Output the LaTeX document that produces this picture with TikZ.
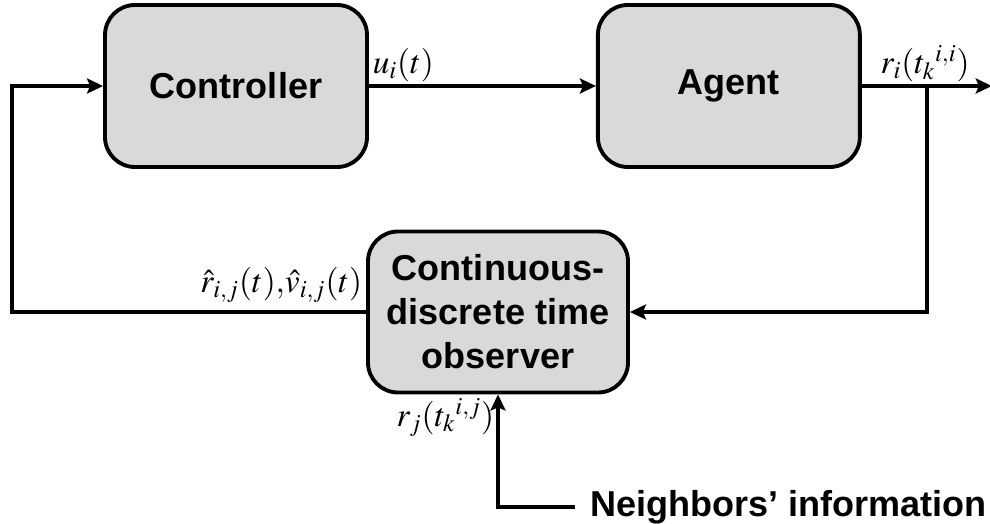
\documentclass[tikz,border=0pt]{standalone}
\usepackage{mathptmx}
\usepackage{fontspec}
\setsansfont{Liberation Sans}
\usepackage{xcolor}
\usepackage{tikz}
\usetikzlibrary{positioning,arrows.meta}
\definecolor{blkgrey}{RGB}{217,217,217}
\tikzset{
  blk/.style={draw=black, line width=2.2pt, fill=blkgrey, rounded corners=0.6cm,
              minimum width=5.24cm, minimum height=3.24cm, align=center,
              font=\sffamily\bfseries\fontsize{20.5}{25}\selectfont},
  sig/.style={-{Stealth[length=0.32cm, width=0.3cm, inset=0.06cm]}, line width=2.2pt},
  lbl/.style={font=\fontsize{19}{23}\selectfont, inner sep=2pt},
  txt/.style={font=\sffamily\bfseries\fontsize{20.5}{25}\selectfont},
}
\begin{document}
\begin{tikzpicture}
\useasboundingbox (0,0) rectangle (19.8,10.48);
\node[blk] (ctrl) at (4.72,8.76) {Controller};
\node[blk, right=4.54cm of ctrl] (agent) {Agent};
\node[blk, minimum width=5.2cm, minimum height=3.22cm] (obs) at (9.96,4.24)
  {Continuous-\\discrete time\\observer};
\node[txt, anchor=west, inner xsep=0.3cm] (nbr) at (11.5,0.34) {Neighbors’ information};
\coordinate[right=2.6cm of agent.east] (out);
\coordinate[right=1.3cm of agent.east] (tap);
\coordinate (lft) at (0.24,0);
\draw[sig] (ctrl.east) -- (agent.west);
\draw[sig] (agent.east) -- (out);
\draw[sig] (tap) |- (obs.east);
\draw[sig] (obs.west) -- (obs.west -| lft) |- (ctrl.west);
\draw[sig] (nbr.west) -| (obs.south);
\node[lbl, anchor=south west] (uit) at (ctrl.east) {$u_i(t)$};
\node[lbl, anchor=south west, xshift=0.3cm] (rii) at (agent.east) {$r_i(t_k{}^{i,i})$};
\node[lbl, anchor=south east, yshift=0.1cm] (est) at (obs.west)
  {$\hat{r}_{i,j}(t),\!\hat{v}_{i,j}(t)$};
\node[lbl, anchor=north east] (rij) at (obs.south) {$r_j(t_k{}^{i,j})$};
\end{tikzpicture}
\end{document}
